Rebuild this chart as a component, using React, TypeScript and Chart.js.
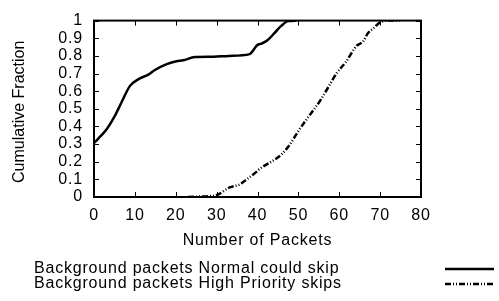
import { useEffect, useRef } from "react";
import { Chart, registerables } from "chart.js";

Chart.register(...registerables);

// ---- data ----
const normalX = [0, 1, 2.9, 5.1, 6.8, 8.8, 10.8, 13.3, 14.9, 17.8, 20.2, 21.8, 24.7, 29.2, 33, 38.1, 38.9, 39.9, 41, 42.5, 44.2, 45.8, 47.5, 49.5];
const normalY = [0.306, 0.33, 0.378, 0.46, 0.54, 0.63, 0.667, 0.694, 0.72, 0.753, 0.77, 0.775, 0.793, 0.795, 0.8, 0.81, 0.83, 0.86, 0.87, 0.89, 0.93, 0.97, 0.997, 1.0];

const highX = [23, 28, 29.9, 33.2, 35.7, 36.5, 39.8, 40.2, 45.8, 47.9, 49.9, 52, 53.6, 55.3, 57.5, 59.3, 61.6, 64.2, 65.9, 67, 68.3, 70, 72, 74.8];
const highY = [0, 0.005, 0.01, 0.054, 0.072, 0.085, 0.144, 0.153, 0.24, 0.297, 0.37, 0.44, 0.49, 0.545, 0.63, 0.7, 0.765, 0.856, 0.883, 0.928, 0.955, 0.99, 1.0, 1.0];

const xTicks = [0, 10, 20, 30, 40, 50, 60, 70, 80];
const yTicks = [0, 0.1, 0.2, 0.3, 0.4, 0.5, 0.6, 0.7, 0.8, 0.9, 1];
const seriesLabels = ["Background packets Normal could skip", "Background packets High Priority skips"];
const xTitle = "Number of Packets";
const yTitle = "Cumulative Fraction";

const FONT = "'Liberation Sans', Arial, Helvetica, sans-serif";
const HIGH_DASH = [6, 2, 1, 2, 1, 2];

const framePlugin = {
  id: "gnuframe",
  beforeDraw(chart: any) {
    chart.ctx.letterSpacing = "0.8px";
  },
  afterDatasetsDraw(chart: any) {
    const { ctx, chartArea: a, scales } = chart;
    ctx.save();
    ctx.strokeStyle = "#000";
    ctx.lineWidth = 2;
    ctx.setLineDash([]);
    ctx.strokeRect(a.left, a.top, a.right - a.left, a.bottom - a.top);
    const L = 5;
    ctx.lineWidth = 1;
    ctx.beginPath();
    xTicks.forEach((v) => {
      const px = Math.round(scales.x.getPixelForValue(v)) + 0.5;
      ctx.moveTo(px, a.bottom);
      ctx.lineTo(px, a.bottom - L);
      ctx.moveTo(px, a.top);
      ctx.lineTo(px, a.top + L);
    });
    yTicks.forEach((v) => {
      const py = Math.round(scales.y.getPixelForValue(v)) + 0.5;
      ctx.moveTo(a.left, py);
      ctx.lineTo(a.left + L, py);
      ctx.moveTo(a.right, py);
      ctx.lineTo(a.right - L, py);
    });
    ctx.stroke();

    // vertical axis title
    ctx.save();
    ctx.letterSpacing = "0px";
    ctx.font = `16px ${FONT}`;
    ctx.fillStyle = "#000";
    ctx.textAlign = "center";
    ctx.textBaseline = "middle";
    ctx.translate(20, (a.top + a.bottom) / 2 + 3);
    ctx.rotate(-Math.PI / 2);
    ctx.fillText(yTitle, 0, 0);
    ctx.restore();

    // gnuplot-style key below the plot
    ctx.font = `16px ${FONT}`;
    ctx.fillStyle = "#000";
    ctx.textAlign = "left";
    ctx.textBaseline = "middle";
    const rows = [269, 284];
    chart.data.datasets.forEach((ds: any, i: number) => {
      const y = rows[i];
      ctx.fillText(ds.label, 34, y);
      ctx.beginPath();
      ctx.lineWidth = ds.borderWidth;
      ctx.setLineDash(ds.borderDash || []);
      ctx.moveTo(445, y);
      ctx.lineTo(494, y);
      ctx.stroke();
    });
    ctx.restore();
  },
};

export default function App() {
  const ref = useRef<HTMLCanvasElement | null>(null);

  useEffect(() => {
    if (!ref.current) return;
    const chart = new Chart(ref.current, {
      type: "line",
      data: {
        datasets: [
          {
            label: seriesLabels[0],
            data: normalX.map((x, i) => ({ x, y: normalY[i] })),
            borderColor: "#000",
            borderWidth: 2.5,
            pointRadius: 0,
            cubicInterpolationMode: "monotone",
            fill: false,
          },
          {
            label: seriesLabels[1],
            data: highX.map((x, i) => ({ x, y: highY[i] })),
            borderColor: "#000",
            borderWidth: 2.5,
            borderDash: HIGH_DASH,
            pointRadius: 0,
            cubicInterpolationMode: "monotone",
            fill: false,
          },
        ],
      },
      options: {
        animation: false,
        responsive: false,
        devicePixelRatio: 1,
        layout: { padding: { top: 12, right: 78, bottom: 47, left: 0 } },
        plugins: { legend: { display: false }, tooltip: { enabled: false } },
        scales: {
          x: {
            type: "linear",
            min: 0,
            max: 80,
            afterBuildTicks: (s: any) => {
              s.ticks = xTicks.map((v) => ({ value: v }));
            },
            afterFit: (s: any) => {
              s.height = 57;
            },
            ticks: {
              color: "#000",
              font: { family: FONT, size: 16 },
              padding: 9,
              maxRotation: 0,
              autoSkip: false,
              callback: (v: any) => String(v),
            },
            grid: { display: false, drawTicks: false },
            border: { display: false },
            title: {
              display: true,
              text: xTitle,
              color: "#000",
              font: { family: FONT, size: 16 },
              padding: { top: 0, bottom: 4 },
            },
          },
          y: {
            type: "linear",
            min: 0,
            max: 1,
            afterBuildTicks: (s: any) => {
              s.ticks = yTicks.map((v) => ({ value: v }));
            },
            afterFit: (s: any) => {
              s.width = 94;
            },
            ticks: {
              color: "#000",
              font: { family: FONT, size: 16 },
              padding: 11,
              autoSkip: false,
              callback: (v: any) => String(v),
            },
            grid: { display: false, drawTicks: false },
            border: { display: false },
            title: { display: false },
          },
        },
      } as any,
      plugins: [framePlugin],
    });
    return () => chart.destroy();
  }, []);

  return (
    <div style={{ position: "absolute", left: 0, top: 0, width: 499, height: 301, background: "#fff" }}>
      <canvas ref={ref} width={499} height={301} style={{ width: 499, height: 301, display: "block" }} />
    </div>
  );
}
